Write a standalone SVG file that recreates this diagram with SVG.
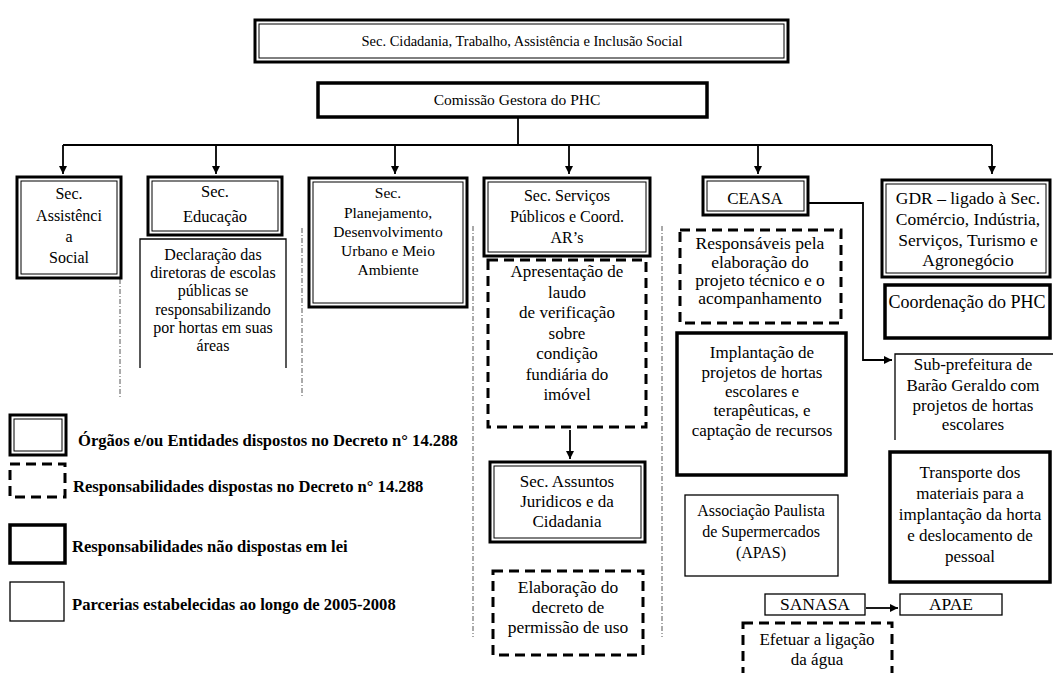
<svg xmlns="http://www.w3.org/2000/svg" width="1053" height="673" viewBox="0 0 1053 673">
<defs>
<style>
.dbo{fill:#fff;stroke:#000;stroke-width:3}
.dbi{fill:none;stroke:#000;stroke-width:1}
.dash{fill:#fff;stroke:#000;stroke-width:3;stroke-dasharray:10 6}
.thick{fill:#fff;stroke:#000;stroke-width:3.5}
.thin{fill:#fff;stroke:#000;stroke-width:1.3}
.open{fill:none;stroke:#000;stroke-width:1.3}
.sep{fill:none;stroke:#555;stroke-width:1;stroke-dasharray:5 2 1 2}
.con{fill:none;stroke:#000;stroke-width:1.8}
.t{font-family:"Liberation Serif","Times New Roman",serif;fill:#000;text-anchor:middle;font-size:16px}
.lg{font-family:"Liberation Serif","Times New Roman",serif;fill:#000;font-weight:bold;font-size:16.6px}
</style>
<marker id="ah" viewBox="0 0 10 10" refX="10" refY="5" markerWidth="8" markerHeight="8" markerUnits="userSpaceOnUse" orient="auto"><path d="M0,0 L10,5 L0,10 z" fill="#000"/></marker>
</defs>
<rect width="1053" height="673" fill="#fff"/>

<g id="separators">
<line class="sep" x1="120" y1="279" x2="120" y2="397"/>
<line class="sep" x1="302" y1="228" x2="302" y2="397"/>
<line class="sep" x1="473" y1="226" x2="473" y2="637"/>
<line class="sep" x1="662" y1="226" x2="662" y2="637"/>
</g>

<g id="connectors">
<line class="con" x1="518" y1="117" x2="518" y2="145"/>
<line class="con" x1="63" y1="145" x2="992" y2="145"/>
<line class="con" x1="63" y1="145" x2="63" y2="174" marker-end="url(#ah)"/>
<line class="con" x1="216" y1="145" x2="216" y2="174" marker-end="url(#ah)"/>
<line class="con" x1="395" y1="145" x2="395" y2="174" marker-end="url(#ah)"/>
<line class="con" x1="569" y1="145" x2="569" y2="174" marker-end="url(#ah)"/>
<line class="con" x1="758" y1="145" x2="758" y2="174" marker-end="url(#ah)"/>
<line class="con" x1="992" y1="145" x2="992" y2="174" marker-end="url(#ah)"/>
<line class="con" x1="570" y1="430" x2="570" y2="459" marker-end="url(#ah)"/>
<polyline class="con" points="808,203 863,203 863,360 892,360" marker-end="url(#ah)"/>
<line class="con" x1="866" y1="608" x2="898" y2="608" marker-end="url(#ah)"/>
</g>

<g id="sec-cidadania">
<rect class="dbo" x="255" y="20" width="533" height="42"/>
<rect class="dbi" x="259" y="24" width="525" height="34"/>
<text class="t" x="522" y="46" style="font-size:14.5px">Sec. Cidadania, Trabalho, Assistência e Inclusão Social</text>
</g>

<g id="comissao">
<rect class="thick" x="318" y="83" width="389" height="34"/>
<text class="t" x="517" y="105" style="font-size:15.5px">Comissão Gestora do PHC</text>
</g>

<g id="sec-assistencia">
<rect class="dbo" x="17" y="177" width="104" height="101"/>
<rect class="dbi" x="21" y="181" width="96" height="93"/>
<text class="t" x="69" y="199">Sec.</text>
<text class="t" x="69" y="221">Assistênci</text>
<text class="t" x="69" y="242">a</text>
<text class="t" x="69" y="263">Social</text>
</g>

<g id="sec-educacao">
<rect class="dbo" x="148" y="177" width="134" height="58"/>
<rect class="dbi" x="152" y="181" width="126" height="50"/>
<text class="t" x="215" y="197" style="font-size:16.5px">Sec.</text>
<text class="t" x="215" y="222" style="font-size:16.5px">Educação</text>
</g>

<g id="declaracao">
<polyline class="open" points="140,368 140,239 286,239 286,368"/>
<text class="t" x="213" y="260">Declaração das</text>
<text class="t" x="213" y="278">diretoras de escolas</text>
<text class="t" x="213" y="296">públicas se</text>
<text class="t" x="213" y="315">responsabilizando</text>
<text class="t" x="213" y="333">por hortas em suas</text>
<text class="t" x="213" y="351">áreas</text>
</g>

<g id="sec-planejamento">
<rect class="dbo" x="309" y="178" width="158" height="129"/>
<rect class="dbi" x="313" y="182" width="150" height="121"/>
<text class="t" x="388" y="198" style="font-size:15.5px">Sec.</text>
<text class="t" x="388" y="218" style="font-size:15.5px">Planejamento,</text>
<text class="t" x="388" y="237" style="font-size:15.5px">Desenvolvimento</text>
<text class="t" x="388" y="256" style="font-size:15.5px">Urbano e Meio</text>
<text class="t" x="388" y="275" style="font-size:15.5px">Ambiente</text>
</g>

<g id="sec-servicos">
<rect class="dbo" x="484" y="178" width="166" height="78"/>
<rect class="dbi" x="488" y="182" width="158" height="70"/>
<text class="t" x="567" y="201">Sec. Serviços</text>
<text class="t" x="567" y="222">Públicos e Coord.</text>
<text class="t" x="567" y="243">AR’s</text>
</g>

<g id="apresentacao">
<rect class="dash" x="488" y="260" width="158" height="167"/>
<text class="t" x="567" y="277" style="font-size:17px">Apresentação de</text>
<text class="t" x="567" y="298" style="font-size:17px">laudo</text>
<text class="t" x="567" y="318" style="font-size:17px">de verificação</text>
<text class="t" x="567" y="339" style="font-size:17px">sobre</text>
<text class="t" x="567" y="359" style="font-size:17px">condição</text>
<text class="t" x="567" y="380" style="font-size:17px">fundiária do</text>
<text class="t" x="567" y="400" style="font-size:17px">imóvel</text>
</g>

<g id="sec-assuntos">
<rect class="dbo" x="490" y="462" width="155" height="80"/>
<rect class="dbi" x="494" y="466" width="147" height="72"/>
<text class="t" x="567" y="487" style="font-size:17px">Sec. Assuntos</text>
<text class="t" x="567" y="507" style="font-size:17px">Juridicos e da</text>
<text class="t" x="567" y="527" style="font-size:17px">Cidadania</text>
</g>

<g id="elaboracao">
<rect class="dash" x="493" y="571" width="150" height="84"/>
<text class="t" x="568" y="593" style="font-size:17.5px">Elaboração do</text>
<text class="t" x="568" y="613" style="font-size:17.5px">decreto de</text>
<text class="t" x="568" y="633" style="font-size:17.5px">permissão de uso</text>
</g>

<g id="ceasa">
<rect class="dbo" x="703" y="177" width="105" height="38"/>
<rect class="dbi" x="707" y="181" width="97" height="30"/>
<text class="t" x="755" y="204" style="font-size:17px">CEASA</text>
</g>

<g id="responsaveis">
<rect class="dash" x="680" y="230" width="161" height="93"/>
<text class="t" x="760" y="249" style="font-size:17.5px">Responsáveis pela</text>
<text class="t" x="760" y="268" style="font-size:17.5px">elaboração do</text>
<text class="t" x="760" y="286" style="font-size:17.5px">projeto técnico e o</text>
<text class="t" x="760" y="304" style="font-size:17.5px">acompanhamento</text>
</g>

<g id="implantacao">
<rect class="thick" x="677" y="333" width="169" height="142"/>
<text class="t" x="762" y="358" style="font-size:17px">Implantação de</text>
<text class="t" x="762" y="378" style="font-size:17px">projetos de hortas</text>
<text class="t" x="762" y="397" style="font-size:17px">escolares e</text>
<text class="t" x="762" y="416" style="font-size:17px">terapêuticas, e</text>
<text class="t" x="762" y="436" style="font-size:17px">captação de recursos</text>
</g>

<g id="apas">
<rect class="thin" x="685" y="495" width="153" height="81"/>
<text class="t" x="761" y="516">Associação Paulista</text>
<text class="t" x="761" y="537">de Supermercados</text>
<text class="t" x="761" y="558">(APAS)</text>
</g>

<g id="gdr">
<rect class="dbo" x="882" y="180" width="168" height="97"/>
<rect class="dbi" x="886" y="184" width="160" height="89"/>
<text class="t" x="968" y="204" style="font-size:17.5px">GDR – ligado à Sec.</text>
<text class="t" x="968" y="225" style="font-size:17.5px">Comércio, Indústria,</text>
<text class="t" x="968" y="246" style="font-size:17.5px">Serviços, Turismo e</text>
<text class="t" x="968" y="266" style="font-size:17.5px">Agronegócio</text>
</g>

<g id="coordenacao">
<rect class="thick" x="885" y="285" width="165" height="53"/>
<text class="t" x="967" y="308" style="font-size:18px">Coordenação do PHC</text>
</g>

<g id="subprefeitura">
<polyline class="open" points="895,440 895,354 1053,354"/>
<text class="t" x="973" y="370" style="font-size:17px">Sub-prefeitura de</text>
<text class="t" x="973" y="391" style="font-size:17px">Barão Geraldo com</text>
<text class="t" x="973" y="411" style="font-size:17px">projetos de hortas</text>
<text class="t" x="973" y="430" style="font-size:17px">escolares</text>
</g>

<g id="transporte">
<rect class="thick" x="890" y="452" width="160" height="130"/>
<text class="t" x="970" y="478" style="font-size:17px">Transporte dos</text>
<text class="t" x="970" y="499" style="font-size:17px">materiais para a</text>
<text class="t" x="970" y="520" style="font-size:17px">implantação da horta</text>
<text class="t" x="970" y="541" style="font-size:17px">e deslocamento de</text>
<text class="t" x="970" y="562" style="font-size:17px">pessoal</text>
</g>

<g id="sanasa">
<rect class="thin" x="765" y="594" width="100" height="21"/>
<text class="t" x="815" y="610" style="font-size:17.5px">SANASA</text>
</g>

<g id="apae">
<rect class="thin" x="900" y="594" width="102" height="21"/>
<text class="t" x="951" y="610" style="font-size:17.5px">APAE</text>
</g>

<g id="efetuar">
<rect class="dash" x="743" y="623" width="149" height="70"/>
<text class="t" x="817" y="645" style="font-size:17px">Efetuar a ligação</text>
<text class="t" x="817" y="665" style="font-size:17px">da água</text>
</g>

<g id="legend">
<rect class="dbo" x="10" y="415" width="56" height="40"/>
<rect class="dbi" x="14" y="419" width="48" height="32"/>
<text class="lg" x="78" y="446">Órgãos e/ou Entidades dispostos no Decreto n° 14.288</text>
<rect class="dash" x="10" y="464" width="55" height="33"/>
<text class="lg" x="73" y="492">Responsabilidades dispostas no Decreto n° 14.288</text>
<rect class="thick" x="10" y="525" width="55" height="38"/>
<text class="lg" x="72" y="552">Responsabilidades não dispostas em lei</text>
<rect class="thin" x="10" y="582" width="54" height="39"/>
<text class="lg" x="72" y="610">Parcerias estabelecidas ao longo de 2005-2008</text>
</g>
</svg>
